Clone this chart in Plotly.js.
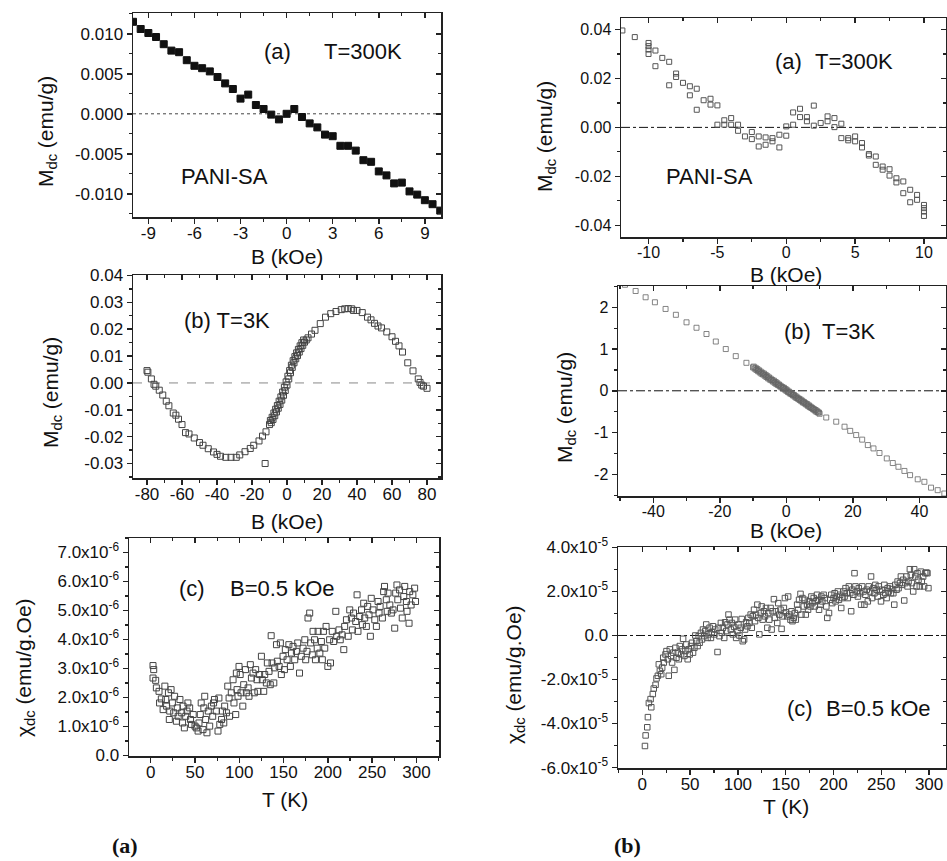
<!DOCTYPE html>
<html><head><meta charset="utf-8">
<script src="https://cdn.plot.ly/plotly-3.0.1.min.js"></script>
<style>html,body{margin:0;padding:0;background:#fff;overflow:hidden}#c{width:947px;height:861px}</style>
</head><body><div id="c"></div>
<script>
// ---------- DATA ----------
// (left a) T=300K, filled squares
const l1B = [-10,-9.5,-9,-8.5,-8,-7.5,-7,-6.5,-6,-5.5,-5,-4.5,-4,-3.5,-3,-2.5,-2,-1.5,-1,-0.5,0,0.5,1,1.5,2,2.5,3,3.5,4,4.5,5,5.5,6,6.5,7,7.5,8,8.5,9,9.5,10];
const l1M = [0.0115,0.0106,0.0101,0.0096,0.0087,0.0079,0.0077,0.0067,0.0060,0.0057,0.0053,0.0046,0.0038,0.0031,0.0019,0.0024,0.0011,0.0006,-0.0001,-0.0007,0.0000,0.0006,-0.0004,-0.0012,-0.0017,-0.0026,-0.0028,-0.0040,-0.0040,-0.0046,-0.0058,-0.0060,-0.0072,-0.0077,-0.0087,-0.0086,-0.0097,-0.0101,-0.0108,-0.0113,-0.0121];

// (left b) T=3K : [B kOe, M emu/g]
const l2Pts = [[-80,0.0046],[-79.5,0.0040],[-77.5,0.0015],[-76,-0.0005],[-75,-0.0012],[-73,-0.0027],[-71,-0.0045],[-69,-0.0068],[-67.5,-0.0085],[-65,-0.0112],[-63.5,-0.0120],[-62,-0.0135],[-60,-0.0155],[-58,-0.0185],[-56,-0.0190],[-53,-0.0205],[-50,-0.0222],[-48,-0.0232],[-45,-0.0245],[-42,-0.0257],[-40,-0.0266],[-38,-0.0273],[-35,-0.0277],[-32,-0.0277],[-29,-0.0277],[-27,-0.0268],[-24,-0.0256],[-21,-0.0244],[-19,-0.0232],[-16,-0.0216],[-14,-0.0198],[-12,-0.0182],[-12.5,-0.0300],
[-10,-0.0155],[-9,-0.0148],[-8,-0.0136],[-7,-0.0122],[-6,-0.0108],[-5,-0.0094],[-4,-0.0080],[-3,-0.0064],[-2,-0.0046],[-1,-0.0028],[0,-0.0008],[1,0.0015],[2,0.0038],[3,0.0058],[4,0.0075],[5,0.0090],[6,0.0102],[7,0.0115],[8,0.0128],[9,0.0140],[10,0.0152],
[-9.5,-0.0140],[-8.5,-0.0128],[-7.5,-0.0112],[-6.5,-0.0098],[-5.5,-0.0084],[-4.5,-0.0068],[-3.5,-0.0052],[-2.5,-0.0034],[-1.5,-0.0016],[-0.5,0.0004],[0.5,0.0025],[1.5,0.0046],[2.5,0.0066],[3.5,0.0083],[4.5,0.0098],[5.5,0.0112],[6.5,0.0125],[7.5,0.0138],[8.5,0.0150],[9.5,0.0160],
[11,0.0160],[12,0.0168],[14,0.0182],[16,0.0196],[19,0.0221],[22,0.0245],[25,0.0258],[28,0.0266],[31,0.0273],[33,0.0276],[35,0.0277],[37,0.0276],[38,0.0270],[40,0.0270],[43,0.0262],[46,0.0245],[48,0.0235],[50,0.0222],[52,0.0212],[54,0.0205],[57,0.0190],[60,0.0172],[62,0.0155],[64,0.0138],[66,0.0115],[69,0.0075],[72,0.0045],[75,0.0015],[76,0.0002],[77,-0.0008],[78,-0.0012],[80,-0.0020]];

// (left c) chi vs T, chi in units of 1e-6 emu/g.Oe : [T K, chi]
const l3Pts = [[2.6,3.10],[3.4,2.96],[2.6,2.67],[5.6,2.59],[6.4,2.33],[9.4,2.21],[10,1.81],[12,1.95],[14,1.58],[16,2.39],[17,1.93],[18,1.70],[20,2.16],[21,1.24],[21.5,1.53],[23,2.27],[24.5,1.81],[26,1.47],[27,2.04],[29,1.18],[30,1.64],[31,1.35],[33,1.93],[35,1.47],[36,1.12],[36.5,1.70],[38,0.95],[39.5,1.35],[41,1.53],[42,1.81],[44,1.64],[45,1.24],[46,1.07],[48,1.41],[50,1.01],[51.5,0.95],[53.5,0.84],[54.5,1.12],[56,1.41],[57,1.81],[59,0.89],[60,1.64],[61,2.04],[62,1.24],[63.5,0.78],[65,1.53],[66.6,1.01],[68.5,1.70],[70,1.35],[71,1.81],[72,1.93],[74,1.53],[76,0.84],[77,1.98],[78,1.07],[80,1.24],[81,1.53],[82.5,1.12],[83.5,1.70],[85.5,1.47],[87,2.39],[88.5,1.98],[89,1.35],[91,2.16],[93,2.61],[94,1.81],[96,1.41],[96.7,2.84],[97.5,2.27],[98.6,2.04],[99.7,3.07],[101,2.79],[102,2.16],[104,1.70],[105,2.44],[107,2.96],[108,2.16],[110,2.33],[111,2.04],[112.5,3.13],[113.7,2.67],[115.5,2.84],[117,2.16],[118.5,2.96],[120,2.61],[121,2.21],[123,2.79],[125,3.42],[126,2.61],[127.6,2.21],[128.7,2.79],[130.6,2.50],[131.7,3.19],[133.6,2.90],[135,2.44],[136,4.13],[137,3.19],[139,2.50],[140,3.02],[142,3.82],[143,3.25],[145,3.07],[146.4,3.88],[147.5,2.79],[149.4,3.42],[151,2.96],[152,3.65],[154,3.30],[156,3.82],[157.7,3.07],[159,3.53],[160.7,3.76],[162.6,3.30],[164.5,3.59],[166,3.88],[168,2.84],[170,3.42],[172,3.70],[174,3.99],[175,3.30],[176.5,3.59],[177.6,4.74],[179.5,4.91],[180.6,3.88],[182.5,3.47],[183.3,4.28],[185,3.99],[186,3.30],[188,3.70],[189,4.28],[191,3.53],[192.7,3.93],[193.8,3.30],[195,4.28],[196.5,3.70],[198,4.45],[200,3.07],[202,3.99],[203,3.19],[205,4.28],[206.6,3.93],[209,4.97],[210,4.11],[212.6,4.33],[214,3.99],[216,4.16],[218,3.65],[219,4.45],[221,4.68],[223,4.11],[224.7,5.02],[226.6,4.74],[227.7,4.33],[229,4.91],[231.5,4.62],[233,5.54],[234,4.28],[236,4.79],[238,5.02],[239,4.51],[240.5,5.25],[241.6,4.74],[243.5,4.45],[245,5.14],[246.5,4.85],[248,4.11],[249,5.42],[251,5.02],[253,4.68],[254.8,4.45],[256.7,5.31],[257.8,4.91],[259,5.14],[261.6,4.74],[263,5.65],[264,5.83],[266,5.37],[267,4.97],[268,5.60],[270,5.19],[271.7,4.91],[273.6,5.02],[275.5,4.39],[276.6,5.60],[278,5.88],[279,5.37],[281,5.71],[282,5.08],[284,4.74],[285.7,5.48],[286.8,5.83],[288.7,5.31],[289.4,4.97],[291.7,4.56],[292.4,5.65],[294,5.19],[296,5.54],[298,5.77],[299,5.31]];

// (right a) T=300K : [B kOe, M emu/g]
const r1Pts = [[-11.9,0.0396],[-11.0,0.0369],[-10,0.0345],[-10,0.0332],[-10,0.0318],[-10,0.0300],[-9.5,0.0314],[-9.5,0.0250],[-9,0.0284],[-8.5,0.0268],[-8.5,0.0172],[-8,0.0220],[-8,0.0206],[-7.5,0.0182],[-7,0.0168],[-7,0.0131],[-6.5,0.0158],[-6.5,0.0072],[-6,0.0111],[-5.5,0.0117],[-5.5,0.0093],[-5,0.0090],[-5,0.0011],[-4.5,0.0029],[-4.5,0.0011],[-4,0.0038],[-4,0.0011],[-3.5,0.0011],[-3.5,-0.0014],[-3,-0.0037],[-2.5,-0.0019],[-2.5,-0.0048],[-2,-0.0037],[-2,-0.0078],[-1.5,-0.0041],[-1.5,-0.0071],[-1,-0.0044],[-1,-0.0057],[-0.5,-0.0030],[-0.5,-0.0082],[0,-0.0034],[0,0.0004],[0.5,0.0011],[0.5,0.0061],[1,0.0076],[1,0.0042],[1.5,0.0042],[1.5,0.0025],[2,0.0089],[2,0.0007],[2.5,0.0018],[3,0.0045],[3,0.0025],[3.5,0.0038],[3.5,0.0001],[4,0.0015],[4,-0.0044],[4.5,-0.0044],[4.5,-0.0053],[5,-0.0037],[5,-0.0057],[5.5,-0.0064],[5.5,-0.0082],[6,-0.0109],[6,-0.0115],[6.5,-0.0119],[6.5,-0.0153],[7,-0.0160],[7,-0.0173],[7.5,-0.0171],[7.5,-0.0197],[8,-0.0208],[8,-0.0225],[8.5,-0.0221],[8.5,-0.0269],[9,-0.0255],[9,-0.0306],[9.5,-0.0276],[9.5,-0.0296],[10,-0.0317],[10,-0.0330],[10,-0.0344],[10,-0.0362]];

// (right b) T=3K : [B kOe, M emu/g]
const r2Pts = [[-48.5,2.54],[-45.3,2.39],[-42.3,2.24],[-39.5,2.12],[-36.3,1.96],[-33.2,1.82],[-30,1.64],[-27,1.51],[-24,1.36],[-21.2,1.18],[-18.2,1.00],[-15.2,0.83],[-12,0.67],
[-10,0.56],[-9.5,0.53],[-9,0.50],[-8.5,0.47],[-8,0.44],[-7.5,0.41],[-7,0.39],[-6.5,0.36],[-6,0.33],[-5.5,0.30],[-5,0.27],[-4.5,0.25],[-4,0.22],[-3.5,0.19],[-3,0.16],[-2.5,0.14],[-2,0.11],[-1.5,0.08],[-1,0.06],[-0.5,0.03],[0,0.00],[0.5,-0.03],[1,-0.06],[1.5,-0.08],[2,-0.11],[2.5,-0.14],[3,-0.17],[3.5,-0.19],[4,-0.22],[4.5,-0.25],[5,-0.28],[5.5,-0.30],[6,-0.33],[6.5,-0.36],[7,-0.39],[7.5,-0.41],[8,-0.44],[8.5,-0.47],[9,-0.50],[9.5,-0.52],[10,-0.55],
[-9.8,0.58],[-9.2,0.55],[-8.7,0.52],[-8.2,0.49],[-7.7,0.46],[-7.2,0.43],[-6.7,0.41],[-6.2,0.38],[-5.7,0.35],[-5.2,0.32],[-4.7,0.29],[-4.2,0.26],[-3.7,0.24],[-3.2,0.21],[-2.7,0.18],[-2.2,0.15],[-1.7,0.12],[-1.2,0.09],[-0.7,0.07],[-0.2,0.04],[0.3,0.01],[0.8,-0.02],[1.3,-0.05],[1.8,-0.08],[2.3,-0.10],[2.8,-0.13],[3.3,-0.16],[3.8,-0.19],[4.3,-0.21],[4.8,-0.24],[5.3,-0.27],[5.8,-0.30],[6.3,-0.32],[6.8,-0.35],[7.3,-0.38],[7.8,-0.41],[8.3,-0.44],[8.8,-0.46],[9.3,-0.49],[9.8,-0.52],
[12,-0.64],[15,-0.74],[17.5,-0.86],[19.2,-0.96],[21,-1.06],[22.8,-1.17],[24.5,-1.30],[26.2,-1.38],[28,-1.49],[30.2,-1.62],[32,-1.73],[33.7,-1.82],[35.5,-1.92],[37.2,-2.02],[39.5,-2.12],[41.5,-2.18],[43.5,-2.32],[45.5,-2.38],[47.5,-2.46]];

// (right c) chi vs T, chi in units of 1e-5 emu/g.Oe : [T K, chi]
const r3Pts = [[2.8,-5.02],[3.5,-4.54],[5.2,-4.17],[5.9,-3.71],[6.9,-3.07],[8.7,-2.89],[9.4,-3.26],[11,-2.66],[12,-2.41],[13.9,-2.24],[14.9,-1.95],[16.3,-1.83],[17.3,-1.31],[18.4,-1.61],[19.8,-1.76],[20.8,-1.46],[21.9,-1.01],[22.5,-1.23],[24.3,-0.86],[25.3,-0.71],[26.7,-1.08],[27.7,-1.83],[28.8,-0.63],[30.2,-0.93],[31.2,-1.23],[32.3,-0.78],[33.6,-1.56],[34.7,-0.56],[35.7,-1.01],[37.1,-0.78],[38.2,-1.08],[39.2,-0.48],[40.6,-0.86],[41.6,-0.63],[42.7,-0.15],[44,-0.93],[45.1,-0.71],[46.1,-0.41],[47.5,-1.08],[48.6,-0.63],[49.6,-0.86],[51,-0.48],[52,-0.33],[53.1,-0.78],[54.5,-0.56],[55.5,0.0],[56.5,-0.26],[57.9,-0.48],[59,-0.03],[60,-0.33],[61.4,0.12],[62.4,-0.18],[63.5,0.27],[64.9,-0.03],[65.9,0.20],[66.9,0.50],[68.3,-0.11],[69.4,0.05],[70.4,0.35],[71.8,-0.11],[72.8,0.15],[73.9,0.42],[75.3,0.05],[76.3,0.27],[78.7,-0.75],[79.8,0.35],[80.8,-0.03],[82.2,0.57],[83.2,0.12],[84.3,0.35],[85.7,-0.11],[86.7,0.60],[87.8,0.20],[89.1,0.50],[90.2,0.95],[91.2,0.72],[92.6,0.27],[93.7,0.57],[94.7,0.05],[96.1,0.39],[97.1,0.72],[98.2,-0.11],[99.5,0.20],[100.6,0.50],[101.6,0.0],[103,0.35],[104,0.75],[105.1,-0.26],[106.5,-0.18],[107.5,0.27],[108.6,0.60],[110,0.42],[111,0.80],[112,0.57],[113.4,0.95],[114.5,0.35],[115.5,0.87],[116.9,1.17],[117.9,0.65],[119,0.95],[120.4,1.40],[121.4,0.80],[122.4,0.05],[123.8,1.02],[124.9,1.32],[125.9,0.72],[127.3,1.10],[128.3,0.87],[129.4,1.25],[130.8,0.35],[131.8,1.02],[132.8,0.72],[134.2,1.25],[135.3,0.27],[136.3,1.10],[137.7,1.65],[138.7,0.80],[139.8,1.10],[141.2,0.57],[142.2,1.47],[143.3,0.95],[144.6,1.17],[145.7,0.30],[146.7,0.87],[148.1,1.25],[149.2,1.70],[150.2,1.05],[151.6,0.87],[152.6,1.77],[153.7,0.95],[155,0.72],[156.1,1.10],[157.1,0.65],[158.5,0.80],[159.6,1.02],[160.6,0.72],[162,1.40],[163,1.17],[164,1.62],[165.5,1.89],[166.5,0.95],[167.5,1.70],[168.9,1.32],[170,1.62],[171,0.95],[172.4,1.40],[173.4,1.17],[174.5,1.55],[175.9,1.32],[176.9,1.77],[177.9,1.47],[179.3,1.70],[180.4,1.32],[181.4,1.55],[182.8,1.85],[183.8,1.62],[184.9,1.17],[186.3,1.40],[187.3,1.77],[188.3,1.55],[189.7,1.85],[190.8,1.70],[192.5,1.32],[193.5,0.80],[195.3,1.02],[196.7,1.62],[197.7,1.85],[198.7,1.47],[200.1,1.70],[201.2,1.92],[202.2,1.55],[203.6,1.77],[204.6,2.00],[205.7,1.62],[207.1,1.85],[208.1,1.25],[209.2,1.70],[210.5,2.00],[211.6,1.77],[212.6,2.15],[214,1.92],[215,1.70],[216.1,2.23],[217.5,1.92],[218.5,1.10],[219.6,2.08],[220.9,1.85],[222,2.83],[223,2.23],[224.4,2.00],[225.5,1.77],[226.5,2.15],[227.9,1.92],[228.9,1.40],[230,2.23],[231.4,2.00],[232.4,1.40],[233.4,1.85],[234.8,2.08],[235.9,1.55],[236.9,2.23],[238.3,2.00],[239.3,2.68],[240.4,1.70],[241.8,2.15],[242.8,1.92],[243.8,2.30],[245.2,2.08],[246.3,1.77],[247.3,2.23],[248.7,2.00],[249.7,1.55],[250.8,2.08],[252.2,1.85],[253.2,2.30],[254.2,1.92],[255.6,1.70],[256.7,2.15],[257.7,2.00],[259.1,2.23],[260.1,1.92],[261.2,2.11],[262.6,1.92],[263.6,1.40],[264.6,2.30],[266,2.08],[267.1,2.45],[268.1,2.15],[269.5,2.38],[270.5,2.68],[271.6,2.30],[272.9,2.53],[274,1.59],[275,2.38],[276.4,2.68],[277.5,2.23],[278.5,2.45],[279.9,3.01],[280.9,2.75],[282,2.38],[283.4,2.00],[284.4,3.01],[285.5,2.68],[286.9,2.23],[287.9,2.83],[288.9,2.53],[290.3,2.23],[291.4,2.90],[292.4,2.45],[293.8,2.68],[294.8,2.23],[295.9,2.83],[297.3,2.86],[298.3,2.83],[299.3,2.15]];

// ---------- TICKS ----------
const l1XTicks = [-9,-6,-3,0,3,6,9], l1XText = ["-9","-6","-3","0","3","6","9"];
const l1YTicks = [-0.010,-0.005,0,0.005,0.010], l1YText = ["-0.010","-0.005","0.000","0.005","0.010"];
const l2XTicks = [-80,-60,-40,-20,0,20,40,60,80], l2XText = ["-80","-60","-40","-20","0","20","40","60","80"];
const l2YTicks = [-0.03,-0.02,-0.01,0,0.01,0.02,0.03,0.04], l2YText = ["-0.03","-0.02","-0.01","0.00","0.01","0.02","0.03","0.04"];
const l3XTicks = [0,50,100,150,200,250,300], l3XText = ["0","50","100","150","200","250","300"];
const l3YTicks = [0,1,2,3,4,5,6,7], l3YText = ["0.0","1.0x10<sup>-6</sup>","2.0x10<sup>-6</sup>","3.0x10<sup>-6</sup>","4.0x10<sup>-6</sup>","5.0x10<sup>-6</sup>","6.0x10<sup>-6</sup>","7.0x10<sup>-6</sup>"];
const r1XTicks = [-10,-5,0,5,10], r1XText = ["-10","-5","0","5","10"];
const r1YTicks = [-0.04,-0.02,0,0.02,0.04], r1YText = ["-0.04","-0.02","0.00","0.02","0.04"];
const r2XTicks = [-40,-20,0,20,40], r2XText = ["-40","-20","0","20","40"];
const r2YTicks = [-2,-1,0,1,2], r2YText = ["-2","-1","0","1","2"];
const r3XTicks = [0,50,100,150,200,250,300], r3XText = ["0","50","100","150","200","250","300"];
const r3YTicks = [-6,-4,-2,0,2,4], r3YText = ["-6.0x10<sup>-5</sup>","-4.0x10<sup>-5</sup>","-2.0x10<sup>-5</sup>","0.0","2.0x10<sup>-5</sup>","4.0x10<sup>-5</sup>"];

// ---------- LAYOUT ----------
const W = 947, H = 861;
const FONT = "Liberation Sans, Arial, Helvetica, sans-serif";
const AX = "#222";
const panels = [
  {x0:133,x1:441,y0:13,y1:217, xr:[-10,10.05], yr:[-0.0129,0.0126], xt:[l1XTicks,l1XText], yt:[l1YTicks,l1YText], xm:1.5, ym:0.0025, fs:17, zdash:"dot", zcol:"#444"},
  {x0:133,x1:441,y0:275,y1:478, xr:[-88,88], yr:[-0.0354,0.0402], xt:[l2XTicks,l2XText], yt:[l2YTicks,l2YText], xm:10, ym:0.005, fs:17, zdash:"dash", zcol:"#888"},
  {x0:129,x1:439,y0:538,y1:756, xr:[-24.5,325.5], yr:[-0.02,7.5], xt:[l3XTicks,l3XText], yt:[l3YTicks,l3YText], xm:25, ym:0.5, fs:17, zdash:null},
  {x0:621,x1:946,y0:18,y1:237, xr:[-12,11.6], yr:[-0.0448,0.0447], xt:[r1XTicks,r1XText], yt:[r1YTicks,r1YText], xm:2.5, ym:0.01, fs:16, zdash:"dashdot", zcol:"#111"},
  {x0:618,x1:946,y0:286,y1:496, xr:[-50.6,48], yr:[-2.52,2.51], xt:[r2XTicks,r2XText], yt:[r2YTicks,r2YText], xm:10, ym:0.5, fs:16, zdash:"dashdot", zcol:"#111"},
  {x0:618,x1:946,y0:547,y1:768, xr:[-25.4,317.7], yr:[-6.02,4.02], xt:[r3XTicks,r3XText], yt:[r3YTicks,r3YText], xm:25, ym:1, fs:17, zdash:"dashdot", zcol:"#111"}
];

const layout = {
  width: W, height: H, margin:{l:0,r:0,t:0,b:0},
  paper_bgcolor:"#fff", plot_bgcolor:"rgba(0,0,0,0)",
  showlegend:false, font:{family:FONT, color:"#111"},
  shapes:[], annotations:[]
};

const series = [
  {x:l1B, y:l1M, sym:"square", size:7, col:"#111", lw:1},
  {x:l2Pts.map(p=>p[0]), y:l2Pts.map(p=>p[1]), sym:"square-open", size:6, col:"#444", lw:1},
  {x:l3Pts.map(p=>p[0]), y:l3Pts.map(p=>p[1]), sym:"square-open", size:6, col:"#444", lw:1},
  {x:r1Pts.map(p=>p[0]), y:r1Pts.map(p=>p[1]), sym:"square-open", size:5, col:"#555", lw:1},
  {x:r2Pts.map(p=>p[0]), y:r2Pts.map(p=>p[1]), sym:"square-open", size:5, col:"#666", lw:0.8},
  {x:r3Pts.map(p=>p[0]), y:r3Pts.map(p=>p[1]), sym:"square-open", size:5.5, col:"#555", lw:1}
];

const traces = [];
panels.forEach((p,i)=>{
  const n = i+1, o = i+7;
  const xd = [p.x0/W, p.x1/W], yd = [1-p.y1/H, 1-p.y0/H];
  const common = {showgrid:false, zeroline:false, tickcolor:AX, tickwidth:1.5, ticklen:5};
  layout["xaxis"+n] = Object.assign({}, common, {
    domain:xd, range:p.xr, anchor:"y"+n, showline:true, linecolor:AX, linewidth:1.5, mirror:true,
    ticks:"outside", ticklabelstandoff:-5, tickmode:"array", tickvals:p.xt[0], ticktext:p.xt[1], tickfont:{size:p.fs, family:FONT, color:"#111"},
    minor:{tickmode:"linear", tick0:0, dtick:p.xm, ticks:"outside", ticklen:3, tickcolor:AX, tickwidth:1.2}
  });
  layout["yaxis"+n] = Object.assign({}, common, {
    domain:yd, range:p.yr, anchor:"x"+n, showline:true, linecolor:AX, linewidth:1.5, mirror:true,
    ticks:"outside", tickmode:"array", tickvals:p.yt[0], ticktext:p.yt[1], tickfont:{size:p.fs, family:FONT, color:"#111"},
    minor:{tickmode:"linear", tick0:0, dtick:p.ym, ticks:"outside", ticklen:3, tickcolor:AX, tickwidth:1.2}
  });
  layout["xaxis"+o] = Object.assign({}, common, {
    overlaying:"x"+n, side:"top", anchor:"y"+o, range:p.xr, showline:false, showticklabels:false,
    ticks:"inside", tickmode:"array", tickvals:p.xt[0],
    minor:{tickmode:"linear", tick0:0, dtick:p.xm, ticks:"inside", ticklen:3, tickcolor:AX, tickwidth:1.2}
  });
  layout["yaxis"+o] = Object.assign({}, common, {
    overlaying:"y"+n, side:"right", anchor:"x"+o, range:p.yr, showline:false, showticklabels:false,
    ticks:"inside", tickmode:"array", tickvals:p.yt[0],
    minor:{tickmode:"linear", tick0:0, dtick:p.ym, ticks:"inside", ticklen:3, tickcolor:AX, tickwidth:1.2}
  });
  const s = series[i];
  traces.push({type:"scatter", mode:"markers", x:s.x, y:s.y, xaxis:"x"+n, yaxis:"y"+n, hoverinfo:"skip",
    marker:{symbol:s.sym, size:s.size, color:s.col, line:{width:s.lw, color:s.col}}});
  traces.push({type:"scatter", mode:"markers", x:s.x, y:s.y, xaxis:"x"+o, yaxis:"y"+o, hoverinfo:"skip",
    marker:{opacity:0, size:1}});
  if (p.zdash) {
    layout.shapes.push({type:"line", xref:"x"+n+" domain", yref:"y"+n, x0:0, x1:1, y0:0, y1:0,
      line:{color:p.zcol, width:1, dash:p.zdash}, layer:"below"});
  }
});

// ---------- TEXT ----------
function ann(x, y, text, size, opt){
  layout.annotations.push(Object.assign({xref:"paper", yref:"paper", x:x/W, y:1-y/H, text:text, showarrow:false,
    xanchor:"center", yanchor:"middle", font:{family:FONT, size:size, color:"#111"}}, opt||{}));
}
const TS = 21;
// axis titles
ann(287, 256, "B (kOe)", TS);
ann(47, 132, "M<sub>dc</sub> (emu/g)", TS, {textangle:-90});
ann(287, 521, "B (kOe)", TS);
ann(52, 393, "M<sub>dc</sub> (emu/g)", TS, {textangle:-90});
ann(285, 799, "T (K)", TS);
ann(25, 668, "χ<sub>dc</sub> (emu/g.Oe)", TS, {textangle:-90});
ann(786, 274, "B (kOe)", TS);
ann(546, 137, "M<sub>dc</sub> (emu/g)", TS, {textangle:-90});
ann(786, 530, "B (kOe)", TS);
ann(566, 408, "M<sub>dc</sub> (emu/g)", TS, {textangle:-90});
ann(786, 806, "T (K)", TS);
ann(515, 675, "χ<sub>dc</sub> (emu/g.Oe)", TS, {textangle:-90});
// in-panel labels
const PS = 22;
ann(277, 52, "(a)", PS); ann(363, 52, "T=300K", PS);
ann(224, 176, "PANI-SA", PS);
ann(227, 320, "(b) T=3K", PS);
ann(192, 588, "(c)", PS); ann(282, 588, "B=0.5 kOe", PS);
ann(788, 62, "(a)", PS); ann(854, 62, "T=300K", PS);
ann(709, 176, "PANI-SA", PS);
ann(797, 332, "(b)", PS); ann(849, 332, "T=3K", PS);
ann(800, 708, "(c)", PS); ann(878, 708, "B=0.5 kOe", PS);
// figure labels
ann(125, 845, "<b>(a)</b>", 22, {font:{family:"Liberation Serif, Times New Roman, serif", size:22, color:"#111"}});
ann(627, 845, "<b>(b)</b>", 22, {font:{family:"Liberation Serif, Times New Roman, serif", size:22, color:"#111"}});

Plotly.newPlot("c", traces, layout, {staticPlot:true, displayModeBar:false});
</script>
</body></html>
